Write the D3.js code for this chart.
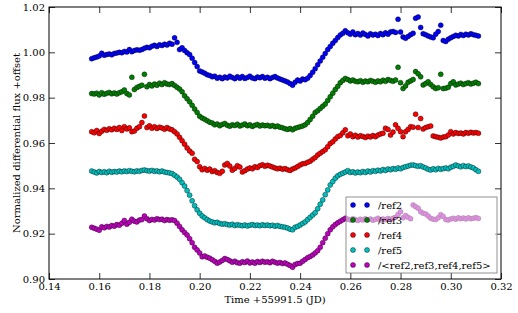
<!DOCTYPE html>
<html><head><meta charset="utf-8">
<script src="https://cdn.jsdelivr.net/npm/d3@7"></script>
<style>body{margin:0;background:#fff} svg{display:block} text{font-family:"DejaVu Serif",serif}</style>
</head><body><svg id="c" width="518" height="313"></svg>
<script>
const times = [0.157,0.158,0.159,0.160,0.161,0.162,0.163,0.164,0.165,0.166,
0.167,0.168,0.169,0.170,0.171,0.172,0.173,0.174,0.175,0.176,
0.177,0.178,0.179,0.180,0.181,0.182,0.183,0.184,0.185,0.186,
0.187,0.188,0.189,0.190,0.191,0.192,0.193,0.194,0.195,0.196,
0.197,0.198,0.199,0.200,0.201,0.202,0.203,0.204,0.205,0.206,
0.207,0.208,0.209,0.210,0.211,0.212,0.213,0.214,0.215,0.216,
0.217,0.218,0.219,0.220,0.221,0.222,0.223,0.224,0.225,0.226,
0.227,0.228,0.229,0.230,0.231,0.232,0.233,0.234,0.235,0.236,
0.237,0.238,0.239,0.240,0.241,0.242,0.243,0.244,0.245,0.246,
0.247,0.248,0.249,0.250,0.251,0.252,0.253,0.254,0.255,0.256,
0.257,0.258,0.259,0.260,0.261,0.262,0.263,0.264,0.265,0.266,
0.267,0.268,0.269,0.270,0.271,0.272,0.273,0.274,0.275,0.276,
0.277,0.278,0.279,0.280,0.281,0.282,0.283,0.284,0.285,0.286,
0.287,0.288,0.289,0.290,0.291,0.292,0.293,0.294,0.295,0.296,
0.297,0.298,0.299,0.300,0.301,0.302,0.303,0.304,0.305,0.306,
0.307,0.308,0.309,0.310,0.311];

const ref2 = [0.9972,0.9976,0.9979,0.9984,0.9996,0.9987,0.9990,0.9993,0.9989,0.9995,
0.9997,1.0000,0.9998,1.0004,1.0001,1.0012,1.0003,1.0008,1.0011,1.0009,
1.0012,1.0018,1.0022,1.0020,1.0027,1.0031,1.0026,1.0033,1.0030,1.0036,
1.0032,1.0040,1.0036,1.0064,1.0044,1.0012,1.0020,1.0008,0.9998,0.9990,
0.9974,0.9955,0.9937,0.9918,0.9913,0.9908,0.9901,0.9898,0.9892,0.9895,
0.9886,0.9890,0.9884,0.9891,0.9887,0.9895,0.9889,0.9884,0.9892,0.9886,
0.9893,0.9885,0.9889,0.9895,0.9887,0.9884,0.9891,0.9888,0.9893,0.9886,
0.9890,0.9884,0.9889,0.9893,0.9887,0.9882,0.9878,0.9874,0.9869,0.9862,
0.9855,0.9868,0.9878,0.9873,0.9882,0.9879,0.9886,0.9898,0.9912,0.9928,
0.9945,0.9962,0.9978,0.9995,1.0012,1.0026,1.0040,1.0052,1.0065,1.0077,
1.0084,1.0095,1.0086,1.0080,1.0090,1.0078,1.0083,1.0076,1.0085,1.0079,
1.0072,1.0082,1.0076,1.0080,1.0074,1.0083,1.0078,1.0086,1.0080,1.0090,
1.0092,1.0088,1.0146,1.0090,1.0068,1.0062,1.0070,1.0078,1.0084,1.0150,
1.0156,1.0110,1.0082,1.0078,1.0072,1.0068,1.0064,1.0080,1.0092,1.0120,
1.0052,1.0048,1.0058,1.0064,1.0070,1.0075,1.0072,1.0079,1.0074,1.0080,
1.0076,1.0082,1.0078,1.0075,1.0072];

const ref3 = [0.9818,0.9816,0.9820,0.9812,0.9822,0.9815,0.9819,0.9823,0.9817,0.9821,
0.9816,0.9822,0.9826,0.9834,0.9818,0.9812,0.9890,0.9836,0.9845,0.9850,
0.9855,0.9903,0.9848,0.9858,0.9852,0.9860,0.9855,0.9864,0.9858,0.9866,
0.9860,0.9858,0.9862,0.9854,0.9846,0.9838,0.9826,0.9808,0.9795,0.9782,
0.9766,0.9750,0.9735,0.9718,0.9710,0.9705,0.9698,0.9692,0.9688,0.9680,
0.9684,0.9676,0.9682,0.9686,0.9678,0.9674,0.9680,0.9677,0.9683,0.9675,
0.9679,0.9684,0.9676,0.9680,0.9673,0.9678,0.9682,0.9675,0.9679,0.9676,
0.9678,0.9674,0.9677,0.9672,0.9675,0.9670,0.9667,0.9663,0.9660,0.9664,
0.9658,0.9665,0.9668,0.9672,0.9675,0.9680,0.9690,0.9704,0.9718,0.9735,
0.9742,0.9752,0.9762,0.9772,0.9788,0.9804,0.9820,0.9836,0.9850,0.9866,
0.9876,0.9885,0.9880,0.9874,0.9878,0.9872,0.9870,0.9875,0.9868,0.9873,
0.9870,0.9876,0.9872,0.9868,0.9874,0.9870,0.9877,0.9872,0.9880,0.9876,
0.9872,0.9878,0.9934,0.9866,0.9840,0.9852,0.9868,0.9874,0.9880,
0.9915,0.9905,0.9892,0.9856,0.9862,0.9870,0.9858,0.9848,0.9840,0.9844,
0.9903,0.9840,0.9842,0.9846,0.9862,0.9870,0.9856,0.9860,0.9864,0.9858,
0.9862,0.9866,0.9860,0.9864,0.9868,0.9862];

const ref4 = [0.9650,0.9645,0.9655,0.9642,0.9652,0.9660,0.9656,0.9663,0.9658,0.9665,
0.9660,0.9668,0.9655,0.9672,0.9662,0.9667,0.9650,0.9653,0.9665,0.9672,
0.9690,0.9719,0.9668,0.9676,0.9665,0.9672,0.9664,0.9670,0.9666,0.9661,
0.9668,0.9662,0.9658,0.9650,0.9640,0.9625,0.9610,0.9595,0.9578,0.9565,
0.9555,0.9528,0.9518,0.9495,0.9482,0.9488,0.9480,0.9485,0.9474,0.9478,
0.9470,0.9466,0.9475,0.9503,0.9510,0.9498,0.9480,0.9488,0.9500,0.9494,
0.9472,0.9478,0.9485,0.9490,0.9486,0.9495,0.9492,0.9500,0.9504,0.9497,
0.9502,0.9498,0.9494,0.9490,0.9486,0.9489,0.9484,0.9487,0.9482,0.9479,
0.9485,0.9490,0.9496,0.9503,0.9508,0.9510,0.9515,0.9520,0.9528,0.9536,
0.9547,0.9555,0.9562,0.9570,0.9584,0.9598,0.9605,0.9618,0.9628,0.9633,
0.9645,0.9658,0.9632,0.9640,0.9628,0.9634,0.9626,0.9632,0.9629,0.9624,
0.9630,0.9627,0.9633,0.9628,0.9635,0.9640,0.9643,0.9665,0.9660,0.9635,
0.9648,0.9680,0.9665,0.9650,0.9628,0.9650,0.9660,0.9672,0.9670,
0.9727,0.9668,0.9708,0.9662,0.9668,0.9672,0.9675,0.9631,0.9628,0.9625,
0.9622,0.9626,0.9628,0.9635,0.9650,0.9640,0.9646,0.9642,0.9644,0.9640,
0.9646,0.9643,0.9647,0.9644,0.9646,0.9643];

const ref5 = [0.9476,0.9472,0.9468,0.9474,0.9470,0.9473,0.9469,0.9475,0.9471,0.9474,
0.9472,0.9476,0.9473,0.9477,0.9474,0.9478,0.9475,0.9473,0.9477,0.9475,
0.9479,0.9481,0.9478,0.9476,0.9479,0.9475,0.9477,0.9473,0.9476,0.9472,
0.9470,0.9468,0.9465,0.9458,0.9450,0.9440,0.9425,0.9410,0.9390,0.9370,
0.9345,0.9323,0.9305,0.9290,0.9278,0.9270,0.9262,0.9256,0.9252,0.9248,
0.9250,0.9245,0.9242,0.9244,0.9240,0.9238,0.9241,0.9236,0.9239,0.9237,
0.9235,0.9238,0.9234,0.9237,0.9240,0.9236,0.9238,0.9235,0.9239,0.9236,
0.9238,0.9235,0.9237,0.9233,0.9236,0.9232,0.9230,0.9228,0.9225,0.9220,
0.9217,0.9228,0.9232,0.9238,0.9245,0.9252,0.9262,0.9272,0.9282,0.9292,
0.9310,0.9330,0.9349,0.9372,0.9393,0.9415,0.9430,0.9445,0.9455,0.9462,
0.9467,0.9472,0.9478,0.9470,0.9473,0.9468,0.9472,0.9469,0.9474,0.9470,
0.9476,0.9472,0.9478,0.9475,0.9480,0.9477,0.9483,0.9479,0.9485,0.9482,
0.9487,0.9484,0.9490,0.9486,0.9492,0.9495,0.9498,0.9502,0.9503,0.9500,
0.9497,0.9500,0.9494,0.9490,0.9484,0.9481,0.9486,0.9482,0.9488,0.9484,
0.9487,0.9490,0.9486,0.9493,0.9497,0.9503,0.9499,0.9495,0.9500,0.9496,
0.9499,0.9494,0.9490,0.9482,0.9475];

const refAll = [0.9228,0.9224,0.9220,0.9215,0.9230,0.9226,0.9232,0.9229,0.9236,0.9233,
0.9240,0.9237,0.9246,0.9258,0.9242,0.9250,0.9264,0.9255,0.9252,0.9260,
0.9262,0.9278,0.9266,0.9258,0.9263,0.9260,0.9266,0.9262,0.9264,0.9258,
0.9262,0.9259,0.9261,0.9258,0.9246,0.9232,0.9217,0.9205,0.9194,0.9178,
0.9160,0.9140,0.9128,0.9115,0.9098,0.9102,0.9096,0.9092,0.9085,0.9078,
0.9070,0.9075,0.9082,0.9090,0.9086,0.9080,0.9074,0.9078,0.9072,0.9070,
0.9076,0.9073,0.9079,0.9071,0.9075,0.9070,0.9077,0.9073,0.9078,0.9074,
0.9076,0.9072,0.9078,0.9074,0.9070,0.9073,0.9068,0.9071,0.9065,0.9060,
0.9052,0.9064,0.9068,0.9070,0.9078,0.9086,0.9094,0.9099,0.9106,0.9115,
0.9125,0.9140,0.9160,0.9180,0.9200,0.9217,0.9230,0.9240,0.9248,0.9255,
0.9261,0.9268,0.9264,0.9260,0.9266,0.9262,0.9258,0.9264,0.9260,0.9266,
0.9261,0.9265,0.9259,0.9263,0.9268,0.9260,0.9265,0.9262,0.9267,0.9263,
0.9268,0.9272,0.9285,0.9297,0.9270,0.9280,0.9272,0.9266,0.9327,0.9319,
0.9312,0.9297,0.9290,0.9287,0.9278,0.9268,0.9264,0.9262,0.9270,0.9284,
0.9276,0.9262,0.9260,0.9265,0.9268,0.9264,0.9270,0.9266,0.9269,0.9265,
0.9270,0.9266,0.9268,0.9271,0.9267];

const seriesNames = ["/ref2","/ref3","/ref4","/ref5","/<ref2,ref3,ref4,ref5>"];
const seriesColors = ["#0000ff","#008000","#ff0000","#00bfbf","#bf00bf"];
const seriesValues = [ref2, ref3, ref4, ref5, refAll];
const xTicks = [0.14,0.16,0.18,0.20,0.22,0.24,0.26,0.28,0.30,0.32];
const yTicks = [0.90,0.92,0.94,0.96,0.98,1.00,1.02];
const xLabel = "Time +55991.5 (JD)";
const yLabel = "Normalized differential flux +offset";

const svg = d3.select("#c");
const L=49, R=501, T=7, B=279;
const x = d3.scaleLinear().domain([0.14,0.32]).range([L,R]);
const y = d3.scaleLinear().domain([0.90,1.02]).range([B,T]);
const fmt = d3.format(".2f");

// data points
seriesValues.forEach((vals, s) => {
  svg.append("g").selectAll("circle")
    .data(vals.map((v,i)=>[times[i], v]))
    .join("circle")
    .attr("cx", d=>x(d[0])).attr("cy", d=>y(d[1])).attr("r", 2.5)
    .attr("fill", seriesColors[s]).attr("stroke","#000").attr("stroke-width",0.4);
});

function styleAxis(g){
  g.select(".domain").remove();
  g.selectAll(".tick line").attr("stroke","#000").attr("stroke-width",0.8);
  g.selectAll("text").attr("font-family","DejaVu Serif").attr("font-size","10px").attr("fill","#000");
}
svg.append("g").attr("transform",`translate(0,${B})`)
  .call(d3.axisBottom(x).tickValues(xTicks).tickFormat(fmt).tickSizeInner(-6).tickSizeOuter(0).tickPadding(4)).call(styleAxis);
svg.append("g").attr("transform",`translate(0,${T})`)
  .call(d3.axisTop(x).tickValues(xTicks).tickFormat("").tickSizeInner(-6).tickSizeOuter(0)).call(styleAxis);
svg.append("g").attr("transform",`translate(${L},0)`)
  .call(d3.axisLeft(y).tickValues(yTicks).tickFormat(fmt).tickSizeInner(-6).tickSizeOuter(0).tickPadding(4)).call(styleAxis);
svg.append("g").attr("transform",`translate(${R},0)`)
  .call(d3.axisRight(y).tickValues(yTicks).tickFormat("").tickSizeInner(-6).tickSizeOuter(0)).call(styleAxis);

svg.append("rect").attr("x",L).attr("y",T).attr("width",R-L).attr("height",B-T)
  .attr("fill","none").attr("stroke","#000").attr("stroke-width",1);

svg.append("text").attr("x",(L+R)/2).attr("y",303).attr("text-anchor","middle")
  .attr("font-size","10px").text(xLabel);
svg.append("text").attr("transform",`translate(16,${(T+B)/2}) rotate(-90)`).attr("text-anchor","middle")
  .attr("dy","0.35em").attr("font-size","10px").text(yLabel);

// legend
const lg = svg.append("g");
lg.append("rect").attr("x",346).attr("y",197).attr("width",151).attr("height",76)
  .attr("fill","#fff").attr("fill-opacity",0.55).attr("stroke","#777").attr("stroke-width",0.8);
seriesNames.forEach((name,i)=>{
  const yy = 205 + i*15;
  [353,367].forEach(xx=>{
    lg.append("circle").attr("cx",xx).attr("cy",yy).attr("r",2.5)
      .attr("fill",seriesColors[i]).attr("stroke","#000").attr("stroke-width",0.4);
  });
  lg.append("text").attr("x",378).attr("y",yy).attr("dy","0.35em").attr("font-size","10px").text(name);
});
</script></body></html>
